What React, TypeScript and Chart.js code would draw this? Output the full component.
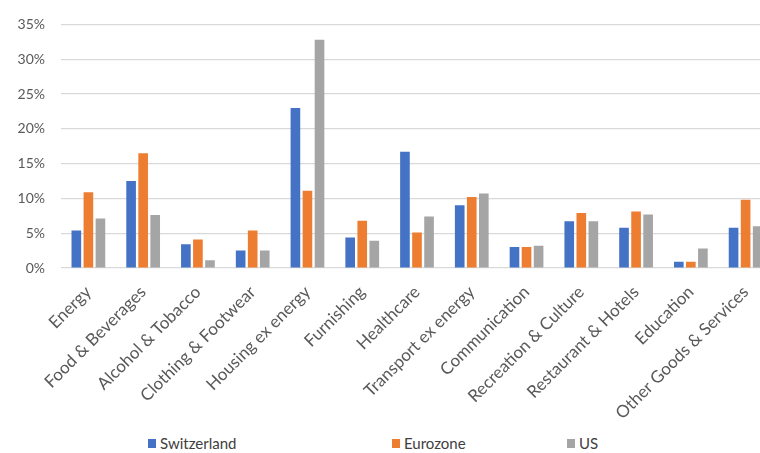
import React, { useEffect, useRef } from "react";
import { Chart, registerables } from "chart.js";

Chart.register(...registerables);

const categories = [
  "Energy",
  "Food & Beverages",
  "Alcohol & Tobacco",
  "Clothing & Footwear",
  "Housing ex energy",
  "Furnishing",
  "Healthcare",
  "Transport ex energy",
  "Communication",
  "Recreation & Culture",
  "Restaurant & Hotels",
  "Education",
  "Other Goods & Services",
];

const switzerland = [5.4, 12.5, 3.4, 2.5, 23.0, 4.4, 16.7, 9.0, 3.0, 6.7, 5.8, 0.9, 5.8];
const eurozone = [10.9, 16.5, 4.1, 5.4, 11.1, 6.8, 5.1, 10.2, 3.0, 7.9, 8.1, 0.9, 9.8];
const us = [7.1, 7.6, 1.1, 2.5, 32.8, 3.9, 7.4, 10.7, 3.2, 6.7, 7.7, 2.8, 6.0];

const seriesNames = ["Switzerland", "Eurozone", "US"];
const seriesColors = ["#4472C4", "#ED7D31", "#A5A5A5"];
const legendLefts = [148, 392, 567];

const yMin = 0;
const yMax = 35;
const yStep = 5;

const FONT = "Lato, 'Liberation Sans', sans-serif";
const TEXT_COLOR = "#595959";

export default function App() {
  const chartRef = useRef<HTMLCanvasElement>(null);
  const chartInstance = useRef<Chart | null>(null);

  useEffect(() => {
    if (!chartRef.current) return;
    if (chartInstance.current) chartInstance.current.destroy();

    const values = [switzerland, eurozone, us];

    chartInstance.current = new Chart(chartRef.current, {
      type: "bar",
      data: {
        labels: categories,
        datasets: seriesNames.map((name, i) => ({
          label: name,
          data: values[i],
          backgroundColor: seriesColors[i],
          borderWidth: 0,
          categoryPercentage: 0.66,
          barPercentage: 0.8,
        })),
      },
      options: {
        animation: false,
        responsive: true,
        maintainAspectRatio: false,
        layout: { padding: { top: 23, right: 0, bottom: 0, left: 0 } },
        plugins: {
          legend: { display: false },
          tooltip: { enabled: false },
        },
        scales: {
          x: {
            grid: { display: false },
            border: { display: false },
            ticks: {
              color: TEXT_COLOR,
              font: { family: FONT, size: 17 },
              minRotation: 45,
              maxRotation: 45,
              autoSkip: false,
              padding: 6,
            },
            afterFit: (scale: any) => {
              scale.height = 164;
            },
          },
          y: {
            min: yMin,
            max: yMax,
            grid: { color: "#d9d9d9", lineWidth: 1.2, drawTicks: false },
            border: { display: false },
            ticks: {
              stepSize: yStep,
              color: TEXT_COLOR,
              font: { family: FONT, size: 14 },
              padding: 16,
              callback: (v: any) => `${v}%`,
            },
            afterFit: (scale: any) => {
              scale.width = 61;
            },
          },
        },
      },
    });

    return () => {
      if (chartInstance.current) {
        chartInstance.current.destroy();
        chartInstance.current = null;
      }
    };
  }, []);

  return (
    <div
      style={{
        position: "fixed",
        left: 0,
        top: 0,
        width: 773,
        height: 453,
        background: "#fff",
        overflow: "hidden",
      }}
    >
      <div style={{ position: "absolute", left: 0, top: 0, width: 773, height: 432 }}>
        <canvas ref={chartRef} />
      </div>
      {seriesNames.map((name, i) => (
        <div
          key={name}
          style={{
            position: "absolute",
            left: legendLefts[i],
            top: 434,
            display: "flex",
            alignItems: "center",
            fontFamily: FONT,
            fontSize: 15,
            color: "#404040",
          }}
        >
          <span
            style={{
              display: "inline-block",
              width: 8,
              height: 9,
              background: seriesColors[i],
              marginRight: 4,
            }}
          />
          {name}
        </div>
      ))}
    </div>
  );
}
